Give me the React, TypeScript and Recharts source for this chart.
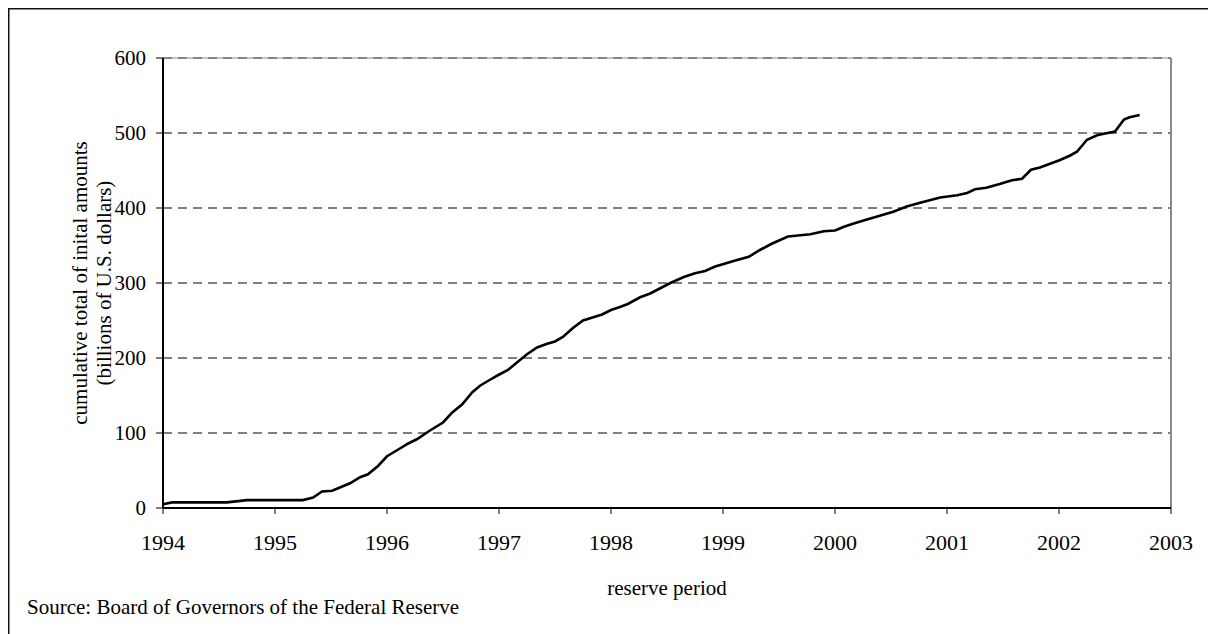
import React from "react";
import {
  LineChart,
  Line,
  XAxis,
  YAxis,
  CartesianGrid,
  ReferenceLine,
} from "recharts";

// reserve period, in decimal years
const periods: number[] = [
  1994.0, 1994.08, 1994.57, 1994.75, 1995.25, 1995.34, 1995.42, 1995.51, 1995.67, 1995.76,
  1995.83, 1995.92, 1996.0, 1996.09, 1996.19, 1996.27, 1996.38, 1996.5, 1996.58, 1996.67,
  1996.76, 1996.83, 1996.92, 1996.99, 1997.08, 1997.16, 1997.25, 1997.34, 1997.43, 1997.5,
  1997.57, 1997.66, 1997.75, 1997.92, 1998.0, 1998.08, 1998.15, 1998.26, 1998.35, 1998.44,
  1998.53, 1998.65, 1998.75, 1998.84, 1998.93, 1999.02, 1999.11, 1999.23, 1999.33, 1999.43,
  1999.58, 1999.78, 1999.9, 2000.0, 2000.08, 2000.16, 2000.27, 2000.43, 2000.52, 2000.64,
  2000.76, 2000.94, 2001.09, 2001.18, 2001.25, 2001.35, 2001.47, 2001.58, 2001.67, 2001.75,
  2001.83, 2001.92, 2002.01, 2002.1, 2002.16, 2002.25, 2002.34, 2002.4, 2002.5, 2002.58,
  2002.63, 2002.72,
];

// cumulative total of initial amounts, billions of U.S. dollars
const cumulative: number[] = [
  5, 7.5, 7.5, 10.5, 10.5, 14, 22, 23, 33, 41,
  45, 56, 69, 77, 86, 92, 103, 114, 127, 138,
  154, 163, 171, 177, 184, 194, 205, 214, 219, 222,
  228, 240, 250, 258, 264, 268, 272, 281, 286, 293,
  300, 308, 313, 316, 322, 326, 330, 335, 344, 352,
  362, 365, 369, 370, 375, 379, 384, 391, 395, 402,
  407, 414, 417, 420, 425, 427, 432, 437, 439, 451,
  454, 459, 464, 470, 475, 491, 497, 499, 502, 518,
  521, 524,
];

const yearTicks: number[] = [1994, 1995, 1996, 1997, 1998, 1999, 2000, 2001, 2002, 2003];
const valueTicks: number[] = [0, 100, 200, 300, 400, 500, 600];

const yTitle1 = "cumulative total of inital amounts";
const yTitle2 = "(billions of U.S. dollars)";
const xTitle = "reserve period";
const sourceNote = "Source: Board of Governors of the Federal Reserve";

const data = periods.map((p, i) => ({ period: p, total: cumulative[i] }));

const FONT = '"Liberation Serif", "Times New Roman", Times, serif';

export default function App() {
  return (
    <div style={{ position: "relative", width: 1208, height: 626, fontFamily: FONT }}>
      <style>{`html,body{overflow:hidden;background:#fff}`}</style>
      <LineChart
        width={1208}
        height={626}
        data={data}
        margin={{ top: 50, right: 45, bottom: 0, left: 0 }}
      >
        <CartesianGrid
          horizontal={true}
          vertical={false}
          stroke="#000"
          strokeDasharray="9 6"
          strokeWidth={1}
        />
        <ReferenceLine y={600} stroke="#8a8a8a" strokeWidth={1} ifOverflow="visible" />
        <ReferenceLine x={2003} stroke="#8a8a8a" strokeWidth={2} ifOverflow="visible" />
        <XAxis
          dataKey="period"
          type="number"
          domain={[1994, 2003]}
          ticks={yearTicks}
          interval={0}
          height={126}
          tickSize={6}
          tickMargin={20}
          axisLine={{ stroke: "#000", strokeWidth: 2 }}
          tickLine={{ stroke: "#000", strokeWidth: 1 }}
          tick={{ fill: "#000", fontSize: 22, fontFamily: FONT }}
          allowDataOverflow
        />
        <YAxis
          type="number"
          domain={[0, 600]}
          ticks={valueTicks}
          interval={0}
          width={155}
          tickSize={7}
          tickMargin={10}
          axisLine={{ stroke: "#000", strokeWidth: 2 }}
          tickLine={{ stroke: "#000", strokeWidth: 1 }}
          tick={{ fill: "#000", fontSize: 21, fontFamily: FONT }}
        />
        <Line
          type="linear"
          dataKey="total"
          stroke="#000"
          strokeWidth={2.6}
          dot={false}
          activeDot={false}
          isAnimationActive={false}
        />
      </LineChart>
      <svg
        width={1208}
        height={626}
        style={{ position: "absolute", left: 0, top: 0, pointerEvents: "none" }}
      >
        <line x1={0} y1={0.5} x2={1208} y2={0.5} stroke="#111" strokeWidth={2} />
        <line x1={0.5} y1={0} x2={0.5} y2={626} stroke="#111" strokeWidth={2} />
        <text
          x={72}
          y={275}
          transform="rotate(-90 72 275)"
          textAnchor="middle"
          dominantBaseline="central"
          fontSize={21}
          fontFamily={FONT}
          fill="#000"
        >
          {yTitle1}
        </text>
        <text
          x={96}
          y={275}
          transform="rotate(-90 96 275)"
          textAnchor="middle"
          dominantBaseline="central"
          fontSize={21}
          fontFamily={FONT}
          fill="#000"
        >
          {yTitle2}
        </text>
        <text
          x={659}
          y={580}
          textAnchor="middle"
          dominantBaseline="central"
          fontSize={21}
          fontFamily={FONT}
          fill="#000"
        >
          {xTitle}
        </text>
        <text x={19} y={606} fontSize={21} fontFamily={FONT} fill="#000">
          {sourceNote}
        </text>
      </svg>
    </div>
  );
}
